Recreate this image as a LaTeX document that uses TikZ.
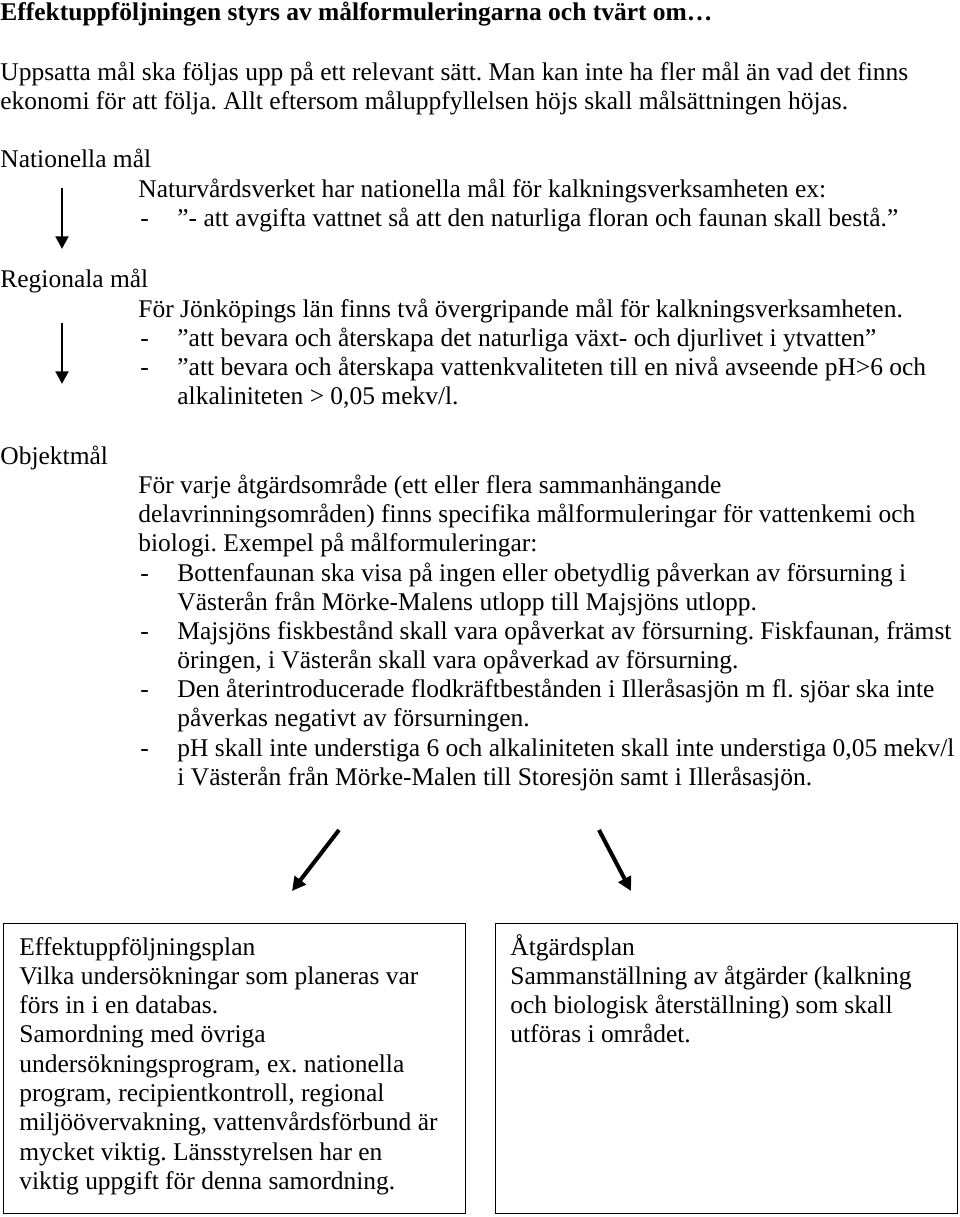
\documentclass[tikz,border=0pt]{standalone}
\usepackage{fontspec}
\setmainfont{Liberation Serif}
\usetikzlibrary{arrows.meta}
\frenchspacing
\newcommand{\rader}[1]{\begin{tabular}[t]{@{}l@{}}#1\end{tabular}}

\begin{document}
\begin{tikzpicture}[x=0.471pt,y=-0.471pt,
	txt/.style={anchor=base west,inner sep=0pt,font=\fontsize{12}{13.8}\selectfont},
	pil/.style={-{Triangle[length=6pt,width=6pt]},line width=1.4pt},
	tjockpil/.style={-{Triangle[length=6.5pt,width=6.5pt]},line width=1.9pt},
	ruta/.style={draw,line width=0.6pt,anchor=north west,inner sep=0pt,minimum width=217.6pt,minimum height=136.6pt}]
	\useasboundingbox (0,0) rectangle (960,1217);
	%heading
	\node[txt,font=\fontsize{12}{13.8}\selectfont\bfseries] (rubrik) at (0,20) {Effektuppföljningen styrs av målformuleringarna och tvärt om…};
	\node[txt] (intro) at (0,80) {\rader{Uppsatta mål ska följas upp på ett relevant sätt. Man kan inte ha fler mål än vad det finns\\ekonomi för att följa. Allt eftersom måluppfyllelsen höjs skall målsättningen höjas.}};
	%nationella
	\node[txt] (nat) at (0,167) {Nationella mål};
	\node[txt] (natText) at (138,197) {Naturvårdsverket har nationella mål för kalkningsverksamheten ex:};
	\node[txt] (natDash) at (140,226) {-};
	\node[txt] (natPunkt) at (177,226) {”- att avgifta vattnet så att den naturliga floran och faunan skall bestå.”};
	%regionala
	\node[txt] (reg) at (0,287) {Regionala mål};
	\node[txt] (regText) at (138,317) {För Jönköpings län finns två övergripande mål för kalkningsverksamheten.};
	\node[txt] (regDashA) at (140,346) {-};
	\node[txt] (regPunktA) at (177,346) {”att bevara och återskapa det naturliga växt- och djurlivet i ytvatten”};
	\node[txt] (regDashB) at (140,375) {-};
	\node[txt] (regPunktB) at (177,375) {\rader{”att bevara och återskapa vattenkvaliteten till en nivå avseende pH>6 och\\alkaliniteten > 0,05 mekv/l.}};
	%objektmal
	\node[txt] (obj) at (0,464) {Objektmål};
	\node[txt] (objText) at (138,493) {\rader{För varje åtgärdsområde (ett eller flera sammanhängande\\delavrinningsområden) finns specifika målformuleringar för vattenkemi och\\biologi. Exempel på målformuleringar:}};
	\node[txt] (objDashA) at (140,581) {-};
	\node[txt] (objPunktA) at (177,581) {\rader{Bottenfaunan ska visa på ingen eller obetydlig påverkan av försurning i\\Västerån från Mörke-Malens utlopp till Majsjöns utlopp.}};
	\node[txt] (objDashB) at (140,639) {-};
	\node[txt] (objPunktB) at (177,639) {\rader{Majsjöns fiskbestånd skall vara opåverkat av försurning. Fiskfaunan, främst\\öringen, i Västerån skall vara opåverkad av försurning.}};
	\node[txt] (objDashC) at (140,697) {-};
	\node[txt] (objPunktC) at (177,697) {\rader{Den återintroducerade flodkräftbestånden i Illeråsasjön m fl. sjöar ska inte\\påverkas negativt av försurningen.}};
	\node[txt] (objDashD) at (140,756) {-};
	\node[txt] (objPunktD) at (177,756) {\rader{pH skall inte understiga 6 och alkaliniteten skall inte understiga 0,05 mekv/l\\i Västerån från Mörke-Malen till Storesjön samt i Illeråsasjön.}};
	%arrows
	\coordinate (A1) at (62,188);
	\coordinate (A2) at (62,249);
	\coordinate (B1) at (62,323);
	\coordinate (B2) at (62,384);
	\coordinate (V1) at (339,830);
	\coordinate (V2) at (292,891);
	\coordinate (H1) at (599,830);
	\coordinate (H2) at (631,891);
	\draw[pil] (A1) -- (A2);
	\draw[pil] (B1) -- (B2);
	\draw[tjockpil] (V1) -- (V2);
	\draw[tjockpil] (H1) -- (H2);
	%boxes
	\node[ruta] (effplan) at (3,923) {};
	\node[ruta] (atgplan) at (495,923) {};
	\node[txt] (effText) at (19,955) {\rader{Effektuppföljningsplan\\Vilka undersökningar som planeras var\\förs in i en databas.\\Samordning med övriga\\undersökningsprogram, ex. nationella\\program, recipientkontroll, regional\\miljöövervakning, vattenvårdsförbund är\\mycket viktig. Länsstyrelsen har en\\viktig uppgift för denna samordning.}};
	\node[txt] (atgText) at (510,955) {\rader{Åtgärdsplan\\Sammanställning av åtgärder (kalkning\\och biologisk återställning) som skall\\utföras i området.}};
\end{tikzpicture}
\end{document}
